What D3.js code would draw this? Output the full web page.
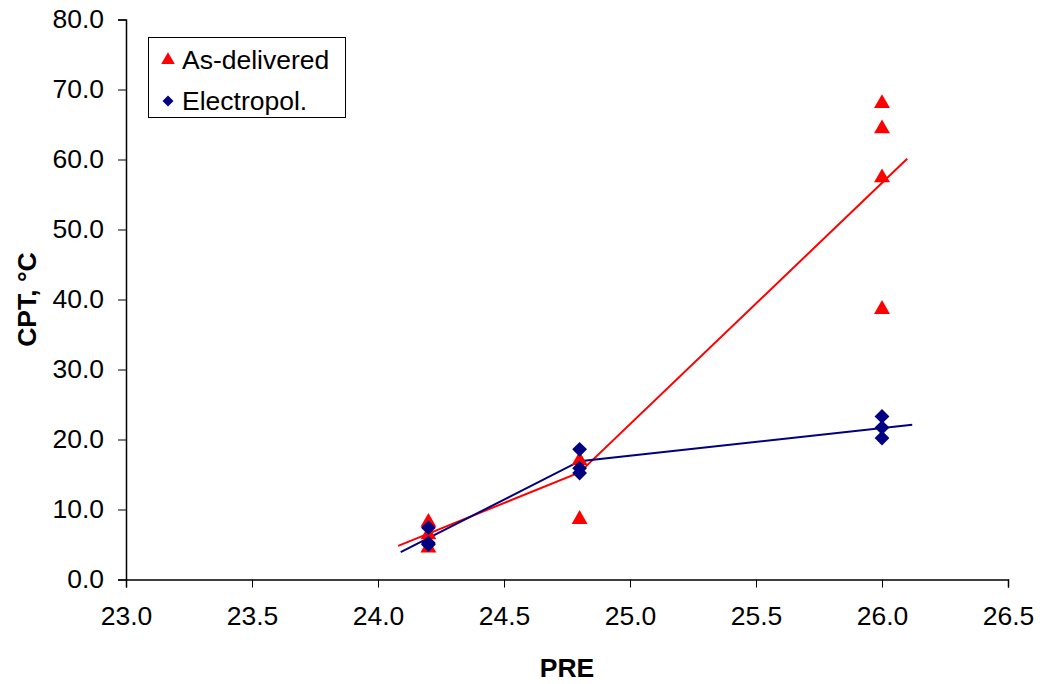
<!DOCTYPE html>
<html>
<head>
<meta charset="utf-8">
<script src="https://cdn.jsdelivr.net/npm/d3@7"></script>
<style>
  body { margin: 0; background: white; }
  text { font-family: "Liberation Sans", Arial, sans-serif; }
</style>
</head>
<body>
<script>
let asDelivered = [
    [24.2, 8.2], [24.2, 6.4], [24.2, 4.5],
    [24.8, 17.0], [24.8, 8.6],
    [26.0, 68.0], [26.0, 64.4], [26.0, 57.4], [26.0, 38.6]
]
let electropol = [
    [24.2, 7.4], [24.2, 5.2], [24.2, 5.0],
    [24.8, 18.6], [24.8, 15.9], [24.8, 15.2],
    [26.0, 23.3], [26.0, 21.7], [26.0, 20.2]
]
// trend lines as drawn in the original
let asDeliveredTrend = [[24.08, 4.8], [24.8, 15.3], [26.1, 60.1]]
let electropolTrend = [[24.09, 3.9], [24.8, 16.9], [26.12, 22.1]]

let xTicks = [23.0, 23.5, 24.0, 24.5, 25.0, 25.5, 26.0, 26.5]
let yTicks = [0, 10, 20, 30, 40, 50, 60, 70, 80]

let width = 1042, height = 684
let margin = { left: 126, right: 34, top: 19.5, bottom: 104.5 }
let red = '#ff0000', navy = '#000080'
let fontSize = 26.5

let svg = d3.select('body').append('svg')
            .attr('width', width)
            .attr('height', height)

svg.append('rect').attr('width', '100%').attr('height', '100%').attr('fill', 'white')

let x = d3.scaleLinear().domain([23, 26.5]).range([margin.left, width - margin.right])
let y = d3.scaleLinear().domain([0, 80]).range([height - margin.bottom, margin.top])

let xAxis = svg.append('g')
               .attr('transform', `translate(0,${y(0)})`)
               .call(d3.axisBottom(x).tickValues(xTicks).tickFormat(d3.format('.1f')).tickSize(8).tickPadding(19))
let yAxis = svg.append('g')
               .attr('transform', `translate(${x(23)},0)`)
               .call(d3.axisLeft(y).tickValues(yTicks).tickFormat(d3.format('.1f')).tickSize(8).tickPadding(14))

for (let ax of [xAxis, yAxis]) {
    ax.select('.domain').attr('stroke', 'black').attr('stroke-width', 1.5)
    ax.selectAll('.tick line').attr('stroke', 'black').attr('stroke-width', 1)
    ax.selectAll('.tick text')
      .attr('fill', 'black')
      .attr('font-size', fontSize + 'px')
      .attr('font-family', '"Liberation Sans", Arial, sans-serif')
}
xAxis.selectAll('.tick text').attr('dy', '0.71em')

// axis titles
svg.append('text')
   .attr('x', x(24.75))
   .attr('y', 677)
   .attr('text-anchor', 'middle')
   .attr('font-size', fontSize + 'px')
   .attr('font-weight', 'bold')
   .text('PRE')

svg.append('text')
   .attr('transform', `translate(36,${y(40)}) rotate(-90)`)
   .attr('text-anchor', 'middle')
   .attr('font-size', fontSize + 'px')
   .attr('font-weight', 'bold')
   .text('CPT, °C')

// trend lines
let line = d3.line().x(d => x(d[0])).y(d => y(d[1]))

svg.append('path')
   .attr('d', line(asDeliveredTrend))
   .attr('fill', 'none')
   .attr('stroke', red)
   .attr('stroke-width', 2)

svg.append('path')
   .attr('d', line(electropolTrend))
   .attr('fill', 'none')
   .attr('stroke', navy)
   .attr('stroke-width', 2)

// markers
let triangle = d3.symbol().type(d3.symbolTriangle).size(110)
let diamond = d3.symbol().type(d3.symbolSquare).size(110)

svg.append('g').selectAll('path')
   .data(asDelivered)
   .join('path')
   .attr('d', triangle)
   .attr('transform', d => `translate(${x(d[0])},${y(d[1])})`)
   .attr('fill', red)

svg.append('g').selectAll('path')
   .data(electropol)
   .join('path')
   .attr('d', diamond)
   .attr('transform', d => `translate(${x(d[0])},${y(d[1])}) rotate(45)`)
   .attr('fill', navy)

// legend
let legend = svg.append('g')
legend.append('rect')
      .attr('x', 148.5)
      .attr('y', 37.5)
      .attr('width', 197)
      .attr('height', 80)
      .attr('fill', 'white')
      .attr('stroke', 'black')
      .attr('stroke-width', 1)

let legendItems = [
    { label: 'As-delivered', color: red, symbol: d3.symbol().type(d3.symbolTriangle).size(80), rot: 0, cy: 60 },
    { label: 'Electropol.', color: navy, symbol: d3.symbol().type(d3.symbolSquare).size(60), rot: 45, cy: 101 }
]
for (let item of legendItems) {
    legend.append('path')
          .attr('d', item.symbol)
          .attr('transform', `translate(168,${item.cy}) rotate(${item.rot})`)
          .attr('fill', item.color)
    legend.append('text')
          .attr('x', 182)
          .attr('y', item.cy + 9)
          .attr('font-size', fontSize + 'px')
          .attr('fill', 'black')
          .text(item.label)
}
</script>
</body>
</html>
